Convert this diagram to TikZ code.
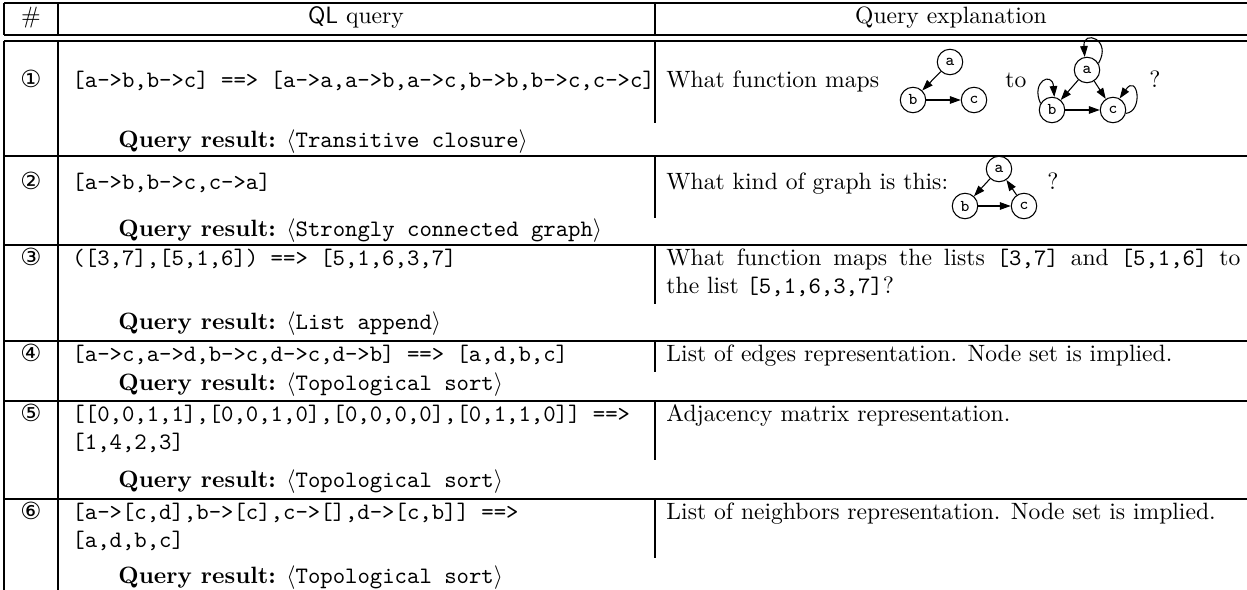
\documentclass[tikz,border=0pt]{standalone}
\usepackage{fontspec}
\usepackage{amsmath}
\usetikzlibrary{arrows.meta,positioning,calc}
\newfontfamily\circfont{DejaVu Sans}
\newcommand{\qres}[1]{\textbf{Query result:} $\langle$\texttt{#1}$\rangle$}

\begin{document}
\begin{tikzpicture}[
    x=0.4237pt, y=-0.4237pt,
    rule/.style={line width=1pt},
    vrule/.style={line width=1.2pt},
    txt/.style={anchor=base west, inner sep=0pt},
    code/.style={txt, font=\ttfamily},
    num/.style={anchor=base, inner sep=0pt, font=\circfont\fontsize{10}{12}\selectfont},
    vert/.style={circle, draw, line width=0.45pt, minimum size=10.8pt, inner sep=0pt, font=\ttfamily\fontsize{7}{8}\selectfont},
    arrow/.style={-{Triangle[length=4.6pt,width=3.2pt]}, line width=0.45pt}
]
\useasboundingbox (0,0) rectangle (1247,590);

% table rules
\draw[rule] (4,3) -- (1247,3);
\draw[rule] (4,35) -- (1247,35);
\draw[rule] (4,41) -- (1247,41);
\foreach \y in {156,245,341,401,499}
    \draw[rule] (4,\y) -- (1247,\y);
\foreach \x in {4,58} {
    \draw[rule] (\x,3) -- (\x,35);
    \draw[rule] (\x,41) -- (\x,590);
}
\draw[vrule] (655,3) -- (655,35);
\foreach \a/\b in {41/123,156/218,245/304,341/372,401/460,499/558}
    \draw[vrule] (655,\a) -- (655,\b);

% header
\node[anchor=base, inner sep=0pt] (hnum) at (31,24) {\#};
\node[anchor=base, inner sep=0pt] (hquery) at (356,24) {\textsf{QL} query};
\node[anchor=base, inner sep=0pt] (hexpl) at (951,24) {Query explanation};

% row 1
\node[num] (n1) at (31,88) {①};
\node[code] (q1) at (72,88) {[a->b,b->c] ==> [a->a,a->b,a->c,b->b,b->c,c->c]};
\node[txt] (e1) at (666,88) {What function maps};
\node[vert] (a1) at (950,62) {a};
\node[vert] (b1) at (913,100) {b};
\node[vert] (c1) at (974,100) {c};
\draw[arrow] (a1) -- (b1);
\draw[arrow] (b1) -- (c1);
\node[txt] (to1) at (1005,88) {to};
\node[vert] (a2) at (1087,70) {a};
\node[vert] (b2) at (1052,110) {b};
\node[vert] (c2) at (1113,110) {c};
\draw[arrow] (a2) -- (b2);
\draw[arrow] (a2) -- (c2);
\draw[arrow] (b2) -- (c2);
\draw[arrow] (a2.30) .. controls +(14,-24) and +(-2,-28) .. (a2.100);
\draw[arrow] (b2.150) .. controls +(-10,-22) and +(-2,-26) .. (b2.80);
\draw[arrow] (c2.-15) .. controls +(18,-2) and +(18,-26) .. (c2.60);
\node[txt] (qm1) at (1149,88) {?};
\node[txt] (r1) at (118,148) {\qres{Transitive closure}};

% row 2
\node[num] (n2) at (31,190) {②};
\node[code] (q2) at (72,190) {[a->b,b->c,c->a]};
\node[txt] (e2) at (666,190) {What kind of graph is this:};
\node[vert] (a3) at (999,169) {a};
\node[vert] (b3) at (965,206) {b};
\node[vert] (c3) at (1024,206) {c};
\draw[arrow] (a3) -- (b3);
\draw[arrow] (b3) -- (c3);
\draw[arrow] (c3) -- (a3);
\node[txt] (qm2) at (1047,190) {?};
\node[txt] (r2) at (118,237) {\qres{Strongly connected graph}};

% row 3
\node[num] (n3) at (31,266) {③};
\node[code] (q3) at (72,266) {([3,7],[5,1,6]) ==> [5,1,6,3,7]};
\node[txt] (e3) at (666,266) {\makebox[243.2pt][s]{What function maps the lists \texttt{[3,7]} and \texttt{[5,1,6]} to}};
\node[txt] (e3b) at (666,294) {the list \texttt{[5,1,6,3,7]}?};
\node[txt] (r3) at (118,330) {\qres{List append}};

% row 4
\node[num] (n4) at (31,362) {④};
\node[code] (q4) at (72,362) {[a->c,a->d,b->c,d->c,d->b] ==> [a,d,b,c]};
\node[txt] (e4) at (666,362) {List of edges representation. Node set is implied.};
\node[txt] (r4) at (118,391) {\qres{Topological sort}};

% row 5
\node[num] (n5) at (31,422) {⑤};
\node[code] (q5) at (72,422) {[[0,0,1,1],[0,0,1,0],[0,0,0,0],[0,1,1,0]] ==>};
\node[code] (q5b) at (72,450) {[1,4,2,3]};
\node[txt] (e5) at (666,422) {Adjacency matrix representation.};
\node[txt] (r5) at (118,488) {\qres{Topological sort}};

% row 6
\node[num] (n6) at (31,520) {⑥};
\node[code] (q6) at (72,520) {[a->[c,d],b->[c],c->[],d->[c,b]] ==>};
\node[code] (q6b) at (72,548) {[a,d,b,c]};
\node[txt] (e6) at (666,520) {List of neighbors representation. Node set is implied.};
\node[txt] (r6) at (118,584) {\qres{Topological sort}};
\end{tikzpicture}
\end{document}
